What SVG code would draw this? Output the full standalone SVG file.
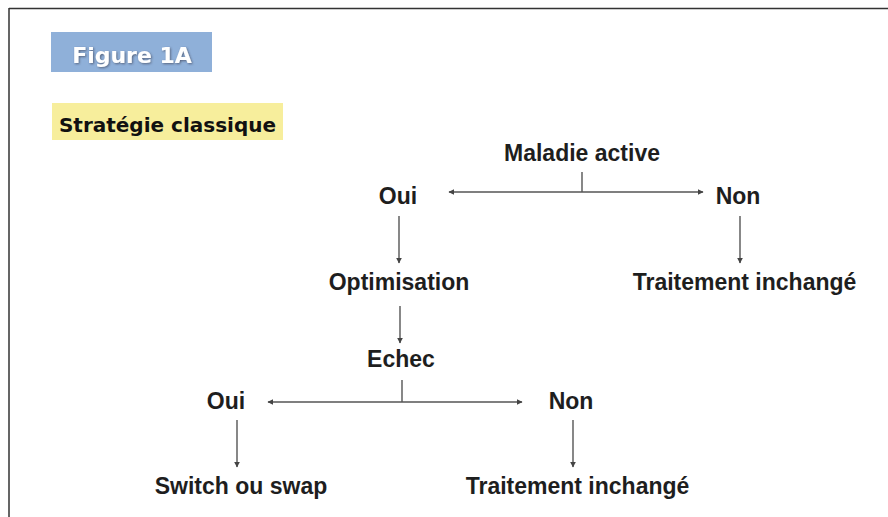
<svg xmlns="http://www.w3.org/2000/svg" width="888" height="517" viewBox="0 0 888 517">
<defs>
<marker id="ah" viewBox="0 0 10 10" refX="9" refY="5" markerWidth="6" markerHeight="6" markerUnits="userSpaceOnUse" orient="auto">
<path d="M0,0 L10,5 L0,10 z" fill="#444"/>
</marker>
<filter id="sh" x="-10%" y="-20%" width="130%" height="150%">
<feDropShadow dx="1" dy="1" stdDeviation="1" flood-color="#334" flood-opacity="0.6"/>
</filter>
</defs>
<style>
.t{font-family:"Liberation Sans",Arial,sans-serif;font-weight:bold;font-size:23px;fill:#1e1e1e;text-anchor:middle}
.c{stroke:#555;stroke-width:1.4;fill:none}
.a{marker-end:url(#ah)}
</style>
<rect x="0" y="0" width="888" height="517" fill="#fff"/>
<path d="M9,8.5 H888 M9,8 V517" stroke="#333" stroke-width="1.5" fill="none"/>
<g id="title">
<rect x="51" y="32" width="161" height="40" fill="#8fb0d9"/>
<text x="132" y="63" font-family="'DejaVu Sans',Verdana,sans-serif" font-weight="bold" font-size="22" fill="#fff" text-anchor="middle" filter="url(#sh)">Figure 1A</text>
</g>
<g id="subtitle">
<rect x="52" y="103" width="231" height="37" fill="#f7ee9c"/>
<text x="167.5" y="132" font-family="'DejaVu Sans',Verdana,sans-serif" font-weight="bold" font-size="20" fill="#111" text-anchor="middle">Stratégie classique</text>
</g>
<g id="n-maladie"><text class="t" x="582" y="161">Maladie active</text></g>
<g id="n-oui1"><text class="t" x="398" y="204">Oui</text></g>
<g id="n-non1"><text class="t" x="738" y="204">Non</text></g>
<g id="n-optim"><text class="t" x="399" y="290">Optimisation</text></g>
<g id="n-trait1"><text class="t" x="744.5" y="290">Traitement inchangé</text></g>
<g id="n-echec"><text class="t" x="401" y="367">Echec</text></g>
<g id="n-oui2"><text class="t" x="226" y="409">Oui</text></g>
<g id="n-non2"><text class="t" x="571" y="409">Non</text></g>
<g id="n-switch"><text class="t" x="241" y="494">Switch ou swap</text></g>
<g id="n-trait2"><text class="t" x="577.5" y="494">Traitement inchangé</text></g>
<g id="connectors">
<path class="c" d="M582,172 V192"/>
<path class="c a" d="M582,192 H449"/>
<path class="c a" d="M582,192 H703"/>
<path class="c a" d="M399,216 V263"/>
<path class="c a" d="M740,216 V263"/>
<path class="c a" d="M400,306 V343"/>
<path class="c" d="M402,380 V402"/>
<path class="c a" d="M402,402 H268"/>
<path class="c a" d="M402,402 H522"/>
<path class="c a" d="M237,420 V467"/>
<path class="c a" d="M573,420 V467"/>
</g>
</svg>
